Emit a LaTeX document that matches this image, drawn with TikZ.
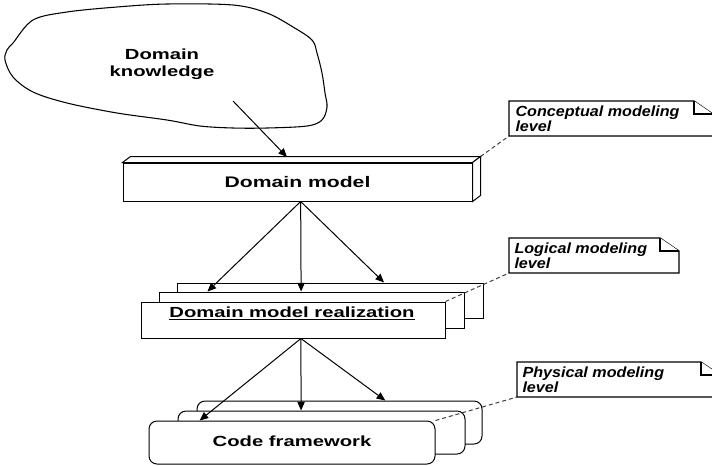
\documentclass[tikz,border=0pt]{standalone}
\usepackage{fontspec}
\setmainfont{Liberation Sans}
\newfontfamily\boxfont[FakeStretch=1.38]{Liberation Sans}
\newfontfamily\notefont[FakeStretch=1.1]{Liberation Sans}
\usetikzlibrary{calc,arrows.meta}
\begin{document}
\begin{tikzpicture}[x=0.75pt,y=-0.75pt,line width=0.75pt,
  box/.style={draw,fill=white,inner sep=0pt},
  rbox/.style={draw,fill=white,inner sep=0pt,rounded corners=6pt},
  lbl/.style={font=\boxfont\bfseries\fontsize{11}{12.75}\selectfont,align=center,inner sep=0pt},
  notetxt/.style={font=\notefont\bfseries\itshape\fontsize{11}{11.25}\selectfont,align=left,anchor=north west,inner sep=0pt},
  noteframe/.style={inner sep=0pt,outer sep=0pt},
  notebox/.style={draw,line width=0.9pt,fill=white},
  arr/.style={-{Triangle[length=6.5pt,width=5.5pt]}},
  link/.style={dash pattern=on 3pt off 2.2pt,line width=0.75pt,draw=black!75}]
\useasboundingbox (0,0) rectangle (712,465);

% cloud
\draw[line width=0.8pt] plot[smooth cycle,tension=0.55] coordinates {
  (13,43) (33,20) (67,12) (117,7) (167,4) (233,5) (267,13) (293,27) (312,40)
  (317,53) (322,73) (325,93) (327,107) (322,120) (307,126) (267,128) (233,128)
  (200,126) (167,120) (117,113) (67,103) (33,92) (13,77) (5,60) (7,50)};
\node[lbl] (dk) at (162,64) {Domain\\knowledge};
\coordinate (kstart) at (233,101);

% domain model (3D box)
\node[box,minimum width=261.75pt,minimum height=28.5pt] (dm) at (297.5,182) {};
\draw[fill=white] (dm.north west) -- ++(8,-6) -- ($(dm.north east)+(8,-6)$) -- (dm.north east) -- cycle;
\draw[fill=white] (dm.north east) -- ++(8,-6) -- ($(dm.south east)+(8,-6)$) -- (dm.south east) -- cycle;
\node[lbl,font=\boxfont\bfseries\fontsize{11.5}{13}\selectfont] (dml) at (297.5,182) {Domain model};
\coordinate (dmin) at (287,157);
\coordinate (dmback) at ($(dm.north east)+(8,-6)$);
\draw[arr] (kstart) -- (dmin);

% domain model realization stack
\node[box,minimum width=229.5pt,minimum height=26.25pt] (dmr3) at (330,300.5) {};
\node[box,minimum width=228.75pt,minimum height=27pt] (dmr2) at (311.5,310) {};
\node[box,minimum width=228pt,minimum height=27pt] (dmr) at (293,320) {};
\node[lbl,anchor=base] (dmrl) at (292,317) {\underline{Domain model realization}};

\coordinate (dmout) at ($(dm.south west)!0.509!(dm.south east)$);
\draw[arr] (dmout) -- ($(dmr2.north west)!0.16!(dmr2.north east)$);
\draw[arr] (dmout) -- ($(dmr2.north west)!0.466!(dmr2.north east)$);
\draw[arr] (dmout) -- ($(dmr3.north west)!0.676!(dmr3.north east)$);

% code framework stack
\node[rbox,minimum width=213.75pt,minimum height=32.25pt] (cf3) at (339.5,422.5) {};
\node[rbox,minimum width=215.25pt,minimum height=32.25pt] (cf2) at (321.5,432.5) {};
\node[rbox,minimum width=214.5pt,minimum height=32.25pt] (cf) at (292,442.5) {};
\node[lbl,anchor=base] (cfl) at (292,446) {Code framework};

\coordinate (dmrout) at ($(dmr.south west)!0.526!(dmr.south east)$);
\draw[arr] (dmrout) -- ($(cf.north west)!0.178!(cf.north east)$);
\draw[arr] (dmrout) -- ($(cf2.north west)!0.429!(cf2.north east)$);
\draw[arr] (dmrout) -- ($(cf3.north west)!0.66!(cf3.north east)$);

% notes
\node[noteframe,minimum width=153pt,minimum height=26.25pt] (cn) at (611,118.5) {};
\draw[notebox] (cn.south west) -- (cn.north west) -- ([xshift=-14.25pt]cn.north east)
  -- ([yshift=-9.75pt]cn.north east) -- (cn.south east) -- cycle;
\draw[notebox] ([xshift=-14.25pt]cn.north east) -- ([xshift=-14.25pt,yshift=-9.75pt]cn.north east)
  -- ([yshift=-9.75pt]cn.north east);
\node[notetxt] (cnt) at ($(cn.north west)+(6,4.5)$) {Conceptual modeling\\level};

\node[noteframe,minimum width=127.5pt,minimum height=26.25pt] (ln) at (594,255.5) {};
\draw[notebox] (ln.south west) -- (ln.north west) -- ([xshift=-14.25pt]ln.north east)
  -- ([yshift=-9.75pt]ln.north east) -- (ln.south east) -- cycle;
\draw[notebox] ([xshift=-14.25pt]ln.north east) -- ([xshift=-14.25pt,yshift=-9.75pt]ln.north east)
  -- ([yshift=-9.75pt]ln.north east);
\node[notetxt] (lnt) at ($(ln.north west)+(5,4.5)$) {Logical modeling\\level};

\node[noteframe,minimum width=152.25pt,minimum height=26.25pt] (pn) at (618.5,379.5) {};
\draw[notebox] (pn.south west) -- (pn.north west) -- ([xshift=-14.25pt]pn.north east)
  -- ([yshift=-9.75pt]pn.north east) -- (pn.south east) -- cycle;
\draw[notebox] ([xshift=-14.25pt]pn.north east) -- ([xshift=-14.25pt,yshift=-9.75pt]pn.north east)
  -- ([yshift=-9.75pt]pn.north east);
\node[notetxt] (pnt) at ($(pn.north west)+(5,4.5)$) {Physical modeling\\level};

% dashed links
\draw[link] (dmback) -- (cn.south west);
\draw[link] (dmr.north east) -- (ln.south west);
\draw[link] (cf.north east) -- (pn.south west);
\end{tikzpicture}
\end{document}
